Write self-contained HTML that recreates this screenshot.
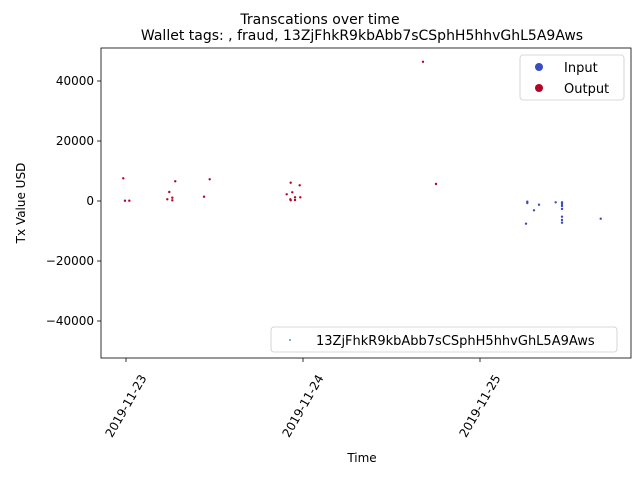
<!DOCTYPE html>
<html><head><meta charset="utf-8"><style>
body{margin:0;background:#fff;font-family:"Liberation Sans","DejaVu Sans",sans-serif;}
text{font-family:"DejaVu Sans","Liberation Sans",sans-serif;}
</style></head><body>
<svg id="chart" width="640" height="480" xmlns="http://www.w3.org/2000/svg">
<rect width="640" height="480" fill="#fff"/>
<text x="320" y="24" font-size="14" text-anchor="middle">Transcations over time</text>
<text x="362" y="40" font-size="14" text-anchor="middle">Wallet tags: , fraud, 13ZjFhkR9kbAbb7sCSphH5hhvGhL5A9Aws</text>
<g id="marks"></g>
<rect x="101" y="48" width="530" height="310" fill="none" stroke="#000" stroke-width="0.8"/>
<g id="axes"></g>
<text x="362" y="462" font-size="12" text-anchor="middle">Time</text>
<text transform="translate(25,203) rotate(-90)" font-size="12" text-anchor="middle">Tx Value USD</text>
<g>
<rect x="520" y="55" width="104" height="45" rx="3" fill="#fff" stroke="#ccc" stroke-width="0.8"/>
<circle cx="539" cy="67" r="4" fill="#3b4cc0"/>
<text x="564" y="72" font-size="13">Input</text>
<circle cx="539" cy="88" r="4" fill="#b40426"/>
<text x="564" y="93" font-size="13">Output</text>
</g>
<g>
<rect x="271" y="327" width="346" height="25" rx="3" fill="#fff" stroke="#ccc" stroke-width="0.8"/>
<circle cx="290" cy="340" r="0.9" fill="#1f77b4"/>
<text x="316" y="345" font-size="13">13ZjFhkR9kbAbb7sCSphH5hhvGhL5A9Aws</text>
</g>
</svg>
<script>
const outHours=[-0.37,-0.14,0.45,5.6,5.87,6.28,6.28,6.68,10.58,11.35,21.79,22.33,22.55,22.28,22.33,22.92,22.92,23.55,23.63,40.27,42.03];
const outValues=[7570,100,100,567,3000,1100,230,6570,1430,7230,2230,6100,2900,570,230,1230,330,5230,1230,46400,5670];
const inHours=[54.41,54.41,56.0,55.32,54.24,58.26,59.12,59.12,59.12,59.12,59.12,59.12,59.12,64.37];
const inValues=[-230,-670,-1230,-3100,-7570,-430,-430,-1000,-1670,-2670,-5230,-6330,-7230,-5900];
const yTicks=[40000,20000,0,-20000,-40000];
const yTickLabels=["40000","20000","0","\u221220000","\u221240000"];
const xTickHours=[0,24,48];
const xTickLabels=["2019-11-23","2019-11-24","2019-11-25"];
const NS="http://www.w3.org/2000/svg";
function xs(h){return 126+h/24*177;}
function ys(v){return 201-v/20000*60;}
const marks=document.getElementById('marks'),axes=document.getElementById('axes');
function dot(h,v,c,n){const e=document.createElementNS(NS,'circle');e.setAttribute('cx',xs(h));e.setAttribute('cy',ys(v));e.setAttribute('r',1.2);e.setAttribute('fill',c);


marks.appendChild(e);}
outHours.forEach((h,i)=>dot(h,outValues[i],'#b40426','output-point'));
inHours.forEach((h,i)=>dot(h,inValues[i],'#3b4cc0','input-point'));
yTicks.forEach((v,i)=>{const y=ys(v);
const l=document.createElementNS(NS,'line');l.setAttribute('x1',97);l.setAttribute('x2',101);l.setAttribute('y1',y);l.setAttribute('y2',y);l.setAttribute('stroke','#000');l.setAttribute('stroke-width',0.8);


axes.appendChild(l);
const t=document.createElementNS(NS,'text');t.setAttribute('x',94);t.setAttribute('y',y+4);t.setAttribute('font-size',12);t.setAttribute('text-anchor','end');t.textContent=yTickLabels[i];


axes.appendChild(t);});
xTickHours.forEach((h,i)=>{const x=xs(h);
const l=document.createElementNS(NS,'line');l.setAttribute('x1',x);l.setAttribute('x2',x);l.setAttribute('y1',358);l.setAttribute('y2',362);l.setAttribute('stroke','#000');l.setAttribute('stroke-width',0.8);


axes.appendChild(l);
const t=document.createElementNS(NS,'text');t.setAttribute('font-size',12);t.setAttribute('text-anchor','middle');
t.setAttribute('transform','translate('+x+',406) rotate(-60) translate(0,4)');t.textContent=xTickLabels[i];


axes.appendChild(t);});
</script>
</body></html>
